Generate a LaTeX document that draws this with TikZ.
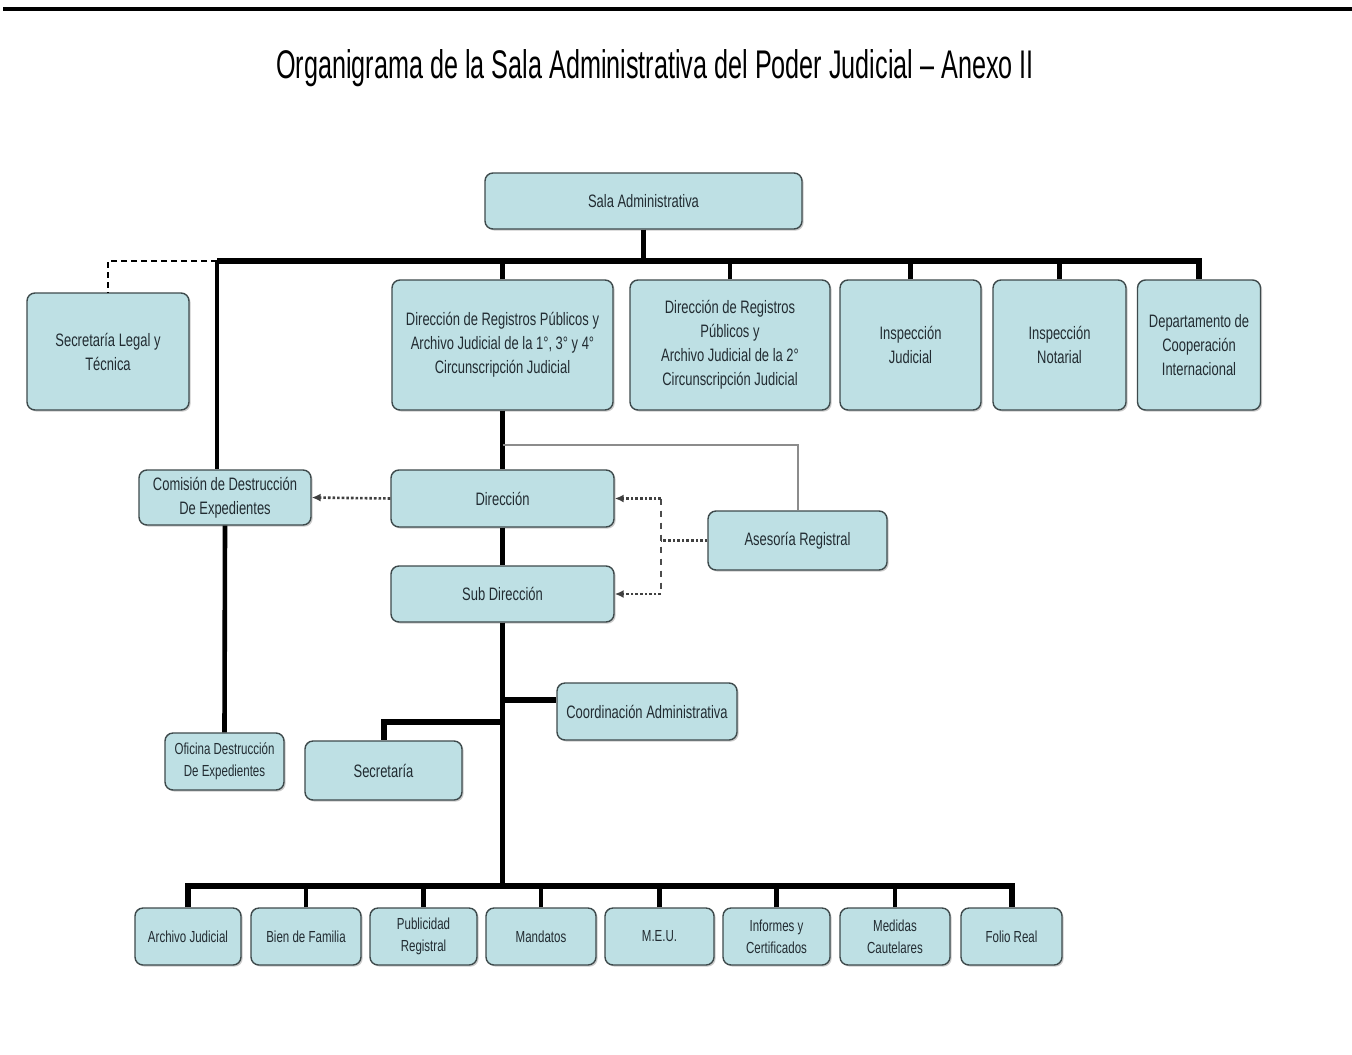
\documentclass[tikz,border=0pt]{standalone}
\usepackage{fontspec}
\setmainfont{Liberation Sans}[FakeStretch=0.72]
\newfontfamily\titlefont{Liberation Sans}[FakeStretch=0.63]
\usetikzlibrary{arrows.meta,shadows}
\definecolor{boxfill}{RGB}{190,224,228}
\definecolor{boxline}{RGB}{62,74,76}
\definecolor{boxtext}{RGB}{34,44,50}
\tikzset{
  orgbox/.style={draw=boxline, line width=0.7pt, fill=boxfill, rounded corners=4pt,
    text=boxtext, align=center, inner sep=1pt,
    font=\fontsize{9}{12}\selectfont,
    drop shadow={shadow xshift=0.8pt, shadow yshift=-0.8pt, fill=black!45, opacity=0.45}},
  smallbox/.style={orgbox, font=\fontsize{8}{11}\selectfont},
  busline/.style={line width=3pt, black},
  dropline/.style={line width=2.3pt, black},
  thinlink/.style={line width=1pt, black!45},
  dashlink/.style={line width=1.4pt, densely dashed, black},
  dotarrow/.style={line width=1.3pt, densely dotted, black!75, -{Latex[length=4.5pt,width=4pt]}},
  dotline/.style={line width=1.3pt, densely dotted, black!75},
  vdash/.style={line width=0.6pt, dashed, black!70},
}
\begin{document}
\begin{tikzpicture}[x=0.5pt,y=-0.5pt]
\useasboundingbox (0,0) rectangle (1352,1054);
\fill[white] (0,0) rectangle (1352,1054);
\draw[line width=1.6pt] (3,9) -- (1352,9);
\node[font=\titlefont\fontsize{20}{24}\selectfont] (title) at (655,68) {Organigrama de la Sala Administrativa del Poder Judicial – Anexo II};

% top level
\node[orgbox, minimum width=158.5pt, minimum height=28pt] (sala) at (643.5,201) {Sala Administrativa};
\node[orgbox, minimum width=81pt, minimum height=58.5pt] (seclegal) at (108,351.5) {Secretaría Legal y\\Técnica};
\node[orgbox, minimum width=110.5pt, minimum height=65pt] (dir1) at (502.5,345) {Dirección de Registros Públicos y\\Archivo Judicial de la 1°, 3° y 4°\\Circunscripción Judicial};
\node[orgbox, minimum width=100pt, minimum height=65pt] (dir2) at (730,345) {Dirección de Registros\\Públicos y\\Archivo Judicial de la 2°\\Circunscripción Judicial};
\node[orgbox, minimum width=70.5pt, minimum height=65pt] (insj) at (910.5,345) {Inspección\\Judicial};
\node[orgbox, minimum width=66.5pt, minimum height=65pt] (insn) at (1059.5,345) {Inspección\\Notarial};
\node[orgbox, minimum width=61.5pt, minimum height=65pt] (dept) at (1199,345) {Departamento de\\Cooperación\\Internacional};

% middle
\node[orgbox, minimum width=86pt, minimum height=27.5pt] (com) at (225,497.5) {Comisión de Destrucción\\De Expedientes};
\node[smallbox, minimum width=59.5pt, minimum height=28.5pt] (ofi) at (224.5,761.5) {Oficina Destrucción\\De Expedientes};
\node[orgbox, minimum width=111.5pt, minimum height=28.5pt] (dirn) at (502.5,498.5) {Dirección};
\node[orgbox, minimum width=111.5pt, minimum height=28pt] (sub) at (502.5,594) {Sub Dirección};
\node[orgbox, minimum width=89.5pt, minimum height=29.5pt] (ase) at (797.5,540.5) {Asesoría Registral};
\node[orgbox, minimum width=90pt, minimum height=28.5pt] (coord) at (647,711.5) {Coordinación Administrativa};
\node[orgbox, minimum width=78.5pt, minimum height=29.5pt] (secr) at (383.5,770.5) {Secretaría};

% bottom row
\node[smallbox, minimum width=53pt, minimum height=28.5pt] (arch) at (188,936.5) {Archivo Judicial};
\node[smallbox, minimum width=55pt, minimum height=28.5pt] (bien) at (306,936.5) {Bien de Familia};
\node[smallbox, minimum width=53.5pt, minimum height=28.5pt] (pub) at (423.5,936.5) {Publicidad\\Registral};
\node[smallbox, minimum width=55pt, minimum height=28.5pt] (mand) at (541,936.5) {Mandatos};
\node[smallbox, minimum width=54.5pt, minimum height=28.5pt] (meu) at (659.5,936.5) {M.E.U.};
\node[smallbox, minimum width=53.5pt, minimum height=28.5pt] (inf) at (776.5,936.5) {Informes y\\Certificados};
\node[smallbox, minimum width=55pt, minimum height=28.5pt] (med) at (895,936.5) {Medidas\\Cautelares};
\node[smallbox, minimum width=50.5pt, minimum height=28.5pt] (folio) at (1011.5,936.5) {Folio Real};

% coordinates
\coordinate (busL) at (217,261);
\coordinate (j1) at (502.5,445);
\coordinate (k) at (661,540.5);
\coordinate (c1) at (502.5,700);
\coordinate (c2) at (502.5,722);
\coordinate (bb) at (502.5,886);

% connectors
\draw[busline] (busL) -| (dept.north);
\draw[dropline] (sala.south) -- (sala.south |- busL);
\foreach \n in {dir1,dir2,insj,insn}
  \draw[dropline] (\n.north) -- (\n.north |- busL);
\draw[dashlink] (busL) -| (seclegal.north);
\draw[dropline] (busL) -- (busL |- com.north);
\draw[dropline] (com.south) -- (ofi.north);
\draw[dropline] (dir1.south) -- (dirn.north);
\draw[thinlink] (j1) -| (ase.north);
\draw[dotarrow] (dirn.west) -- (com.east);
\draw[dotline] (ase.west) -- (k);
\draw[vdash] (k |- dirn.east) -- (k |- sub.east);
\draw[dotarrow] (k |- dirn.east) -- (dirn.east);
\draw[dotarrow] (k |- sub.east) -- (sub.east);
\draw[dropline] (dirn.south) -- (sub.north);
\draw[dropline] (sub.south) -- (bb);
\draw[busline] (c1) -- (c1 -| coord.west);
\draw[busline] (c2) -| (secr.north);
\draw[busline] (arch.north) |- (bb) -| (folio.north);
\foreach \n in {bien,pub,mand,meu,inf,med}
  \draw[dropline] (\n.north) -- (\n.north |- bb);
\end{tikzpicture}
\end{document}
